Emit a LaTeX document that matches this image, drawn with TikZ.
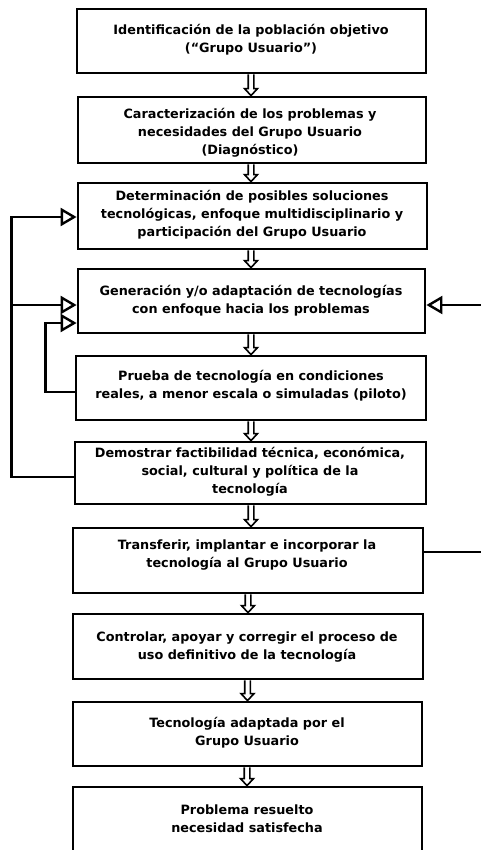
\documentclass[tikz,border=0pt]{standalone}
\usepackage{fontspec}
\setmainfont{DejaVu Sans}
\usetikzlibrary{arrows.meta,calc}
\begin{document}
\begin{tikzpicture}[x=1pt,y=-1pt,
  box/.style={draw, line width=2.8pt, rectangle, inner sep=0pt},
  txt/.style={align=center, font=\fontsize{12.8}{18}\selectfont\bfseries, inner sep=0pt},
  fb/.style={line width=2.4pt, -{Triangle[open,length=16pt,width=18pt]}},
  blockarrow/.style={draw, line width=1.6pt,
    to path={let \p1=(\tikztostart), \p2=(\tikztotarget) in
      (\x1-2.8pt,\y1) -- (\x1-2.8pt,\y2+7pt) -- (\x1-6.5pt,\y2+7pt) -- (\x1,\y2)
      -- (\x1+6.5pt,\y2+7pt) -- (\x1+2.8pt,\y2+7pt) -- (\x1+2.8pt,\y1)}}]
\useasboundingbox (0,0) rectangle (481,850);
\clip (0,0) rectangle (481,850);
\fill[white] (0,0) rectangle (481,850);

% boxes
\node[box, minimum width=349pt, minimum height=64pt] (b1) at (251.5,41) {};
\node[box, minimum width=348pt, minimum height=66pt] (b2) at (252,130) {};
\node[box, minimum width=349pt, minimum height=66pt] (b3) at (252.5,216) {};
\node[box, minimum width=347pt, minimum height=64pt] (b4) at (251.5,301) {};
\node[box, minimum width=350pt, minimum height=64pt] (b5) at (251,388) {};
\node[box, minimum width=351pt, minimum height=62pt] (b6) at (250.5,473) {};
\node[box, minimum width=350pt, minimum height=65pt] (b7) at (248,560.5) {};
\node[box, minimum width=350pt, minimum height=65pt] (b8) at (248,646.5) {};
\node[box, minimum width=349pt, minimum height=64pt] (b9) at (247.5,734) {};
\node[box, minimum width=349pt, minimum height=90pt] (b10) at (247.5,832) {};

% texts
\node[txt] (t1) at (251,40) {Identificación de la población objetivo\\(“Grupo Usuario”)};
\node[txt] (t2) at (250,133) {Caracterización de los problemas y\\necesidades del Grupo Usuario\\(Diagnóstico)};
\node[txt] (t3) at (252,215) {Determinación de posibles soluciones\\tecnológicas, enfoque multidisciplinario y\\participación del Grupo Usuario};
\node[txt] (t4) at (251,301) {Generación y/o adaptación de tecnologías\\con enfoque hacia los problemas};
\node[txt] (t5) at (251,386) {Prueba de tecnología en condiciones\\reales, a menor escala o simuladas (piloto)};
\node[txt] (t6) at (250,472) {Demostrar factibilidad técnica, económica,\\social, cultural y política de la\\tecnología};
\node[txt] (t7) at (247,555.5) {Transferir, implantar e incorporar la\\tecnología al Grupo Usuario};
\node[txt] (t8) at (247,647) {Controlar, apoyar y corregir el proceso de\\uso definitivo de la tecnología};
\node[txt] (t9) at (247,733) {Tecnología adaptada por el\\Grupo Usuario};
\node[txt] (t10) at (247,819) {Problema resuelto\\necesidad satisfecha};

% block arrows between boxes
\draw[blockarrow] ([xshift=-0.5pt]b1.south) to (b2.north);
\draw[blockarrow] ([xshift=-1pt]b2.south) to (b3.north);
\draw[blockarrow] ([xshift=-1.5pt]b3.south) to (b4.north);
\draw[blockarrow] ([xshift=-0.5pt]b4.south) to (b5.north);
\draw[blockarrow] ([xshift=0pt]b5.south) to (b6.north);
\draw[blockarrow] ([xshift=0.5pt]b6.south) to (b7.north);
\draw[blockarrow] ([xshift=0pt]b7.south) to (b8.north);
\draw[blockarrow] ([xshift=-0.5pt]b8.south) to (b9.north);
\draw[blockarrow] ([xshift=-0.5pt]b9.south) to (b10.north);

% feedback connectors
\draw[fb] ([yshift=-4pt]b6.west) -- ++(-62,0) |- ([yshift=-1pt]b3.west);
\draw[fb] ([yshift=-4pt]b4.west) ++(-65,0) -- ([yshift=-4pt]b4.west);
\draw[fb] ([yshift=-4pt]b5.west) -- ++(-29,0) |- ([yshift=-22pt]b4.west);
\draw[fb] ([yshift=8.5pt]b7.east) -- ++(80,0) |- ([yshift=-4pt]b4.east);
\end{tikzpicture}
\end{document}
